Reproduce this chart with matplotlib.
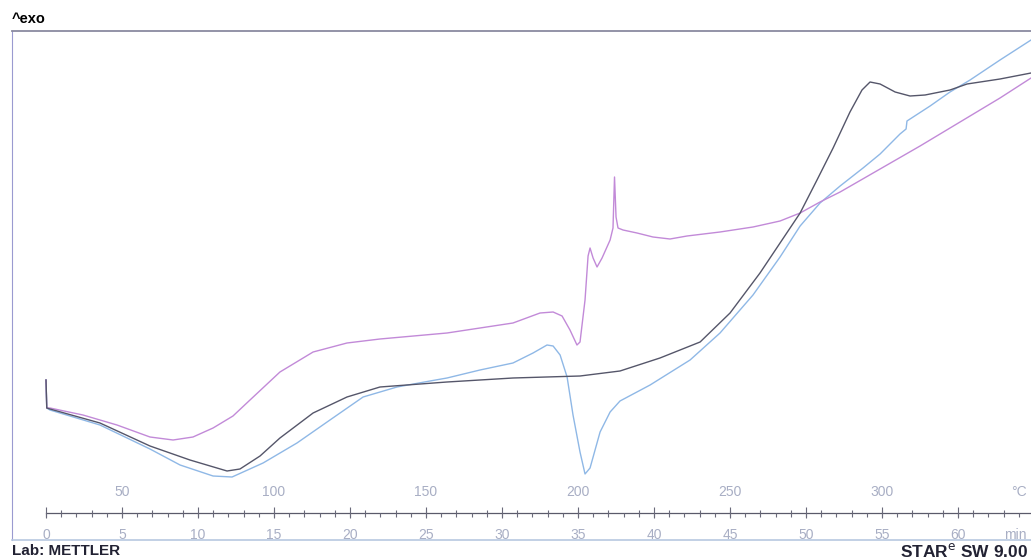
import numpy as np
import matplotlib.pyplot as plt

# DSC curves
# t : time in min (heating 5 K/min from 25 C)
# hf: heat flow, arbitrary units (exo up)

# curve with the sharp spike (upper one)
t_a = [0, 0.05, 0.26, 2.43, 4.67, 6.84, 8.36, 9.67, 10.99, 12.30, 13.42, 15.39,
       17.57, 19.80, 21.97, 26.38, 30.72, 32.5, 33.36, 33.95, 34.47, 34.93,
       35.13, 35.46, 35.66, 35.79, 35.99, 36.25, 36.58, 37.11, 37.30, 37.40,
       37.50, 37.63, 37.96, 38.88, 39.93, 41.05, 42.17, 44.34, 46.51, 48.29,
       49.61, 50.92, 52.24, 54.87, 57.5, 60.13, 62.76, 64.80, 66.2]
hf_a = [1.20, 0.92, 0.92, 0.85, 0.75, 0.63, 0.60, 0.63, 0.72, 0.84, 1.00, 1.28,
        1.48, 1.57, 1.61, 1.67, 1.77, 1.87, 1.88, 1.84, 1.70, 1.55,
        1.58, 2.00, 2.44, 2.52, 2.42, 2.33, 2.42, 2.60, 2.72, 3.23,
        2.83, 2.72, 2.70, 2.67, 2.63, 2.61, 2.64, 2.68, 2.73, 2.79,
        2.87, 2.98, 3.08, 3.31, 3.54, 3.78, 4.02, 4.22, 4.30]

# dark curve
t_b = [0, 0.05, 0.26, 3.55, 6.84, 9.47, 11.91, 12.76, 14.08, 15.39, 17.57,
       19.80, 21.97, 26.38, 30.72, 35.13, 37.76, 40.39, 43.03, 45.0, 46.97,
       48.29, 49.61, 50.72, 51.78, 52.89, 53.68, 54.21, 54.87, 55.86, 56.84,
       57.83, 59.47, 60.59, 62.76, 64.80, 66.2]
hf_b = [1.20, 0.92, 0.91, 0.77, 0.54, 0.40, 0.29, 0.31, 0.44, 0.62, 0.87,
        1.03, 1.13, 1.18, 1.22, 1.24, 1.29, 1.42, 1.58, 1.87, 2.27,
        2.57, 2.87, 3.20, 3.52, 3.88, 4.10, 4.18, 4.16, 4.08, 4.04,
        4.05, 4.10, 4.16, 4.21, 4.27, 4.29]

# curve with the deep endotherm
t_c = [0, 0.05, 0.26, 3.55, 6.84, 8.82, 10.99, 12.24, 14.28, 16.51, 18.68,
       20.86, 23.09, 25.26, 26.38, 28.55, 30.72, 32.04, 32.96, 33.36, 33.82,
       34.28, 34.67, 35.13, 35.46, 35.79, 36.45, 37.11, 37.76, 39.74, 42.37,
       44.34, 46.51, 48.29, 49.61, 50.92, 52.24, 53.75, 54.87, 56.18, 56.58,
       56.64, 58.16, 59.47, 60.79, 62.76, 64.80, 66.2]
hf_c = [1.20, 0.92, 0.90, 0.75, 0.51, 0.35, 0.24, 0.23, 0.37, 0.57, 0.80,
        1.03, 1.13, 1.19, 1.22, 1.30, 1.37, 1.47, 1.55, 1.54, 1.45,
        1.23, 0.85, 0.48, 0.26, 0.32, 0.68, 0.88, 0.99, 1.15, 1.40,
        1.67, 2.05, 2.43, 2.74, 2.97, 3.14, 3.32, 3.46, 3.66, 3.71,
        3.79, 3.94, 4.08, 4.20, 4.40, 4.60, 4.69]

time_labels = [0, 5, 10, 15, 20, 25, 30, 35, 40, 45, 50, 55, 60]
temp_labels = [50, 100, 150, 200, 250, 300]

fig = plt.figure(figsize=(10.31, 5.59), dpi=100)
ax = fig.add_axes([12 / 1031, 1 - 540 / 559, 1040 / 1031, 509 / 559])
ax.set_xlim(-2.237, 66.18)
ax.set_ylim(-0.40, 4.69)

ax.plot(t_c, hf_c, color='#8fb8e6', lw=1.0)
ax.plot(t_a, hf_a, color='#c28ad8', lw=1.0)
ax.plot(t_b, hf_b, color='#55566a', lw=1.0)

# the combined time / temperature scale inside the frame
y0 = -0.13
ax.plot([0, 66.2], [y0, y0], color='#5a5a6a', lw=0.9)
mins = np.arange(0, 67)
ax.vlines(mins, y0 - 0.035, y0, color='#6a6a7a', lw=0.8)
ax.vlines(np.arange(0, 66, 5), y0 - 0.05, y0 + 0.06, color='#6a6a7a', lw=0.8)
ax.vlines(np.arange(1, 66, 2), y0, y0 + 0.035, color='#6a6a7a', lw=0.8)

for m in time_labels:
    ax.text(m, -0.35, str(m), ha='center', va='center', fontsize=10,
            color='#a8aec4', family='Liberation Sans')
ax.text(64.5, -0.35, 'min', ha='right', va='center', fontsize=10,
        color='#a8aec4', family='Liberation Sans')
for T in temp_labels:
    ax.text((T - 25) / 5, 0.08, str(T), ha='center', va='center', fontsize=10,
            color='#a8aec4', family='Liberation Sans')
ax.text(64.5, 0.08, '°C', ha='right', va='center', fontsize=10,
        color='#a8aec4', family='Liberation Sans')

ax.set_xticks([])
ax.set_yticks([])
ax.spines['top'].set_color('#8a8aa0')
ax.spines['top'].set_linewidth(1.3)
ax.spines['left'].set_color('#9a9ad0')
ax.spines['bottom'].set_color('#b8c8e0')
ax.spines['bottom'].set_linewidth(1.2)
ax.spines['right'].set_visible(False)

fig.text(12 / 1031, 1 - 19 / 559, '^exo', ha='left', va='center',
         fontsize=10.5, fontweight='bold', family='Liberation Sans')
fig.text(12 / 1031, 1 - 551 / 559, 'Lab: METTLER', ha='left', va='center',
         fontsize=11, fontweight='bold', family='Liberation Sans', color='#222233')
fig.text(1028 / 1031, 1 - 551 / 559, 'STAR$^{\\rm e}$ SW 9.00', ha='right', va='center',
         fontsize=12.5, fontweight='bold', family='Liberation Sans', color='#222233')

plt.savefig('out.png', dpi=100)
